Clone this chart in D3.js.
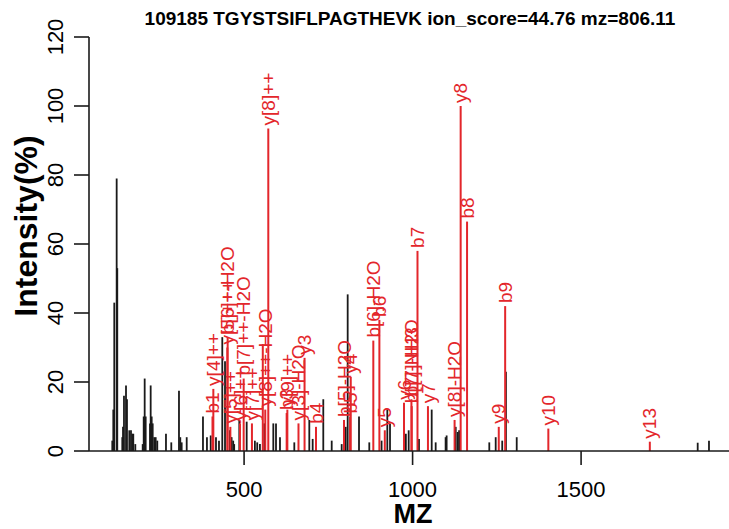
<!DOCTYPE html>
<html>
<head>
<meta charset="utf-8">
<script src="https://cdn.jsdelivr.net/npm/d3@7"></script>
<style>
  body { margin: 0; background: #fff; }
  svg { display: block; font-family: "Liberation Sans", Arial, sans-serif; }
</style>
</head>
<body>
<svg id="chart" width="729" height="529"></svg>
<script>
var title = "109185 TGYSTSIFLPAGTHEVK ion_score=44.76 mz=806.11";

// unmatched peaks (black)
var peakMz = [108.9, 111.9, 114.8, 121.9, 123.7, 138.6, 140.7, 143.6, 149.6, 152.5,
    159.4, 164.4, 168.2, 171.2, 177.2, 199.1, 202.1, 205.0, 208.0, 220.8,
    222.8, 225.8, 228.8, 233.5, 237.7, 242.4, 268.2, 284.0, 306.8, 310.7,
    314.8, 329.7, 378.0, 389.8, 400.9, 416.6, 425.5, 435.3, 443.4, 458.0,
    460.5, 463.0, 467.7, 470.6, 485.8, 507.7, 532.0, 539.0, 547.0, 560.0,
    586.7, 594.7, 606.5, 649.0, 693.5, 703.5, 735.0, 760.0, 789.6, 801.5,
    807.4, 841.0, 871.5, 908.0, 925.0, 933.0, 980.0, 988.4, 1019.0, 1056.7,
    1068.5, 1098.0, 1101.0, 1125.8, 1128.0, 1133.8, 1138.0, 1227.6, 1246.6, 1266.0,
    1277.0, 1309.0, 1846.0, 1879.5];
var peakInt = [3, 12, 43, 79, 53, 4, 7, 16, 19, 15,
    6, 6, 5, 5, 2, 2, 10, 21, 10, 8,
    19, 10, 8, 4, 4, 3, 5, 2.5, 17.5, 4,
    2.5, 4, 10, 4, 4.5, 4, 3, 33, 26, 6,
    4, 4, 3, 2, 9, 8.5, 3, 2.5, 2, 8,
    8, 8, 4, 2.5, 9, 3.5, 15, 3, 2, 7,
    45.4, 10, 2.5, 3, 12, 8, 5, 6, 3.5, 12,
    2.5, 4, 4.5, 6.5, 7, 5.5, 6, 2.5, 4, 3,
    23, 4, 2.4, 3];

// matched fragment ions (red)
var ionMz = [406.26, 408.75, 450.26, 451.23, 459.27, 487.78, 498.77, 523.30, 555.5, 562.82,
    571.83, 626.34, 628.37, 661.42, 679.43, 713.38, 796.41, 814.42, 816.49, 883.45,
    901.46, 917.54, 974.56, 996.53, 997.51, 1014.54, 1045.59, 1124.64, 1142.65, 1161.61,
    1255.73, 1274.69, 1402.80, 1703.96];
var ionInt = [10, 18, 30, 33, 7, 8, 21, 8, 31, 12,
    93.5, 11, 12, 8, 27, 7, 9, 10, 21.5, 32,
    38, 6, 14, 15, 13, 58, 13, 9, 100, 66.5,
    7, 42, 6.5, 2.7];
var ionLabels = ["b1", "y[4]++", "y[5]++-H2O", "b[6]++", "y[5]++", "y[6]++", "b[7]++-H2O", "y[7]++", "", "y[8]++-H2O",
    "y[8]++", "b3", "y[9]++", "y[3]-H2O", "y3", "b4", "b[5]-H2O", "b5", "y4", "b[6]-H2O",
    "b6", "y5", "y6", "b[7]-H2O", "b[7]-NH3", "b7", "y7", "y[8]-H2O", "y8", "b8",
    "y9", "b9", "y10", "y13"];

var xTicks = [500, 1000, 1500];
var yTicks = [0, 20, 40, 60, 80, 100, 120];

var red = "#e3262b";

var svg = d3.select("#chart");

var x = d3.scaleLinear().domain([39.8, 1938.9]).range([89, 729]);
var y = d3.scaleLinear().domain([0, 120]).range([451, 37]);

var peaks = peakMz.map(function(m, i) { return { mz: m, v: peakInt[i] }; });
var ions = ionMz.map(function(m, i) { return { mz: m, v: ionInt[i], label: ionLabels[i] }; });

// title
svg.append("text")
    .attr("x", 410).attr("y", 25)
    .attr("text-anchor", "middle")
    .style("font-size", "19px").style("font-weight", "bold")
    .text(title);

// black peaks
svg.append("g").selectAll("line")
    .data(peaks).enter().append("line")
    .attr("x1", function(d) { return x(d.mz); })
    .attr("x2", function(d) { return x(d.mz); })
    .attr("y1", y(0))
    .attr("y2", function(d) { return y(d.v); })
    .style("stroke", "#1a1a1a")
    .style("stroke-width", 1.8);

// red peaks
svg.append("g").selectAll("line")
    .data(ions).enter().append("line")
    .attr("x1", function(d) { return x(d.mz); })
    .attr("x2", function(d) { return x(d.mz); })
    .attr("y1", y(0))
    .attr("y2", function(d) { return y(d.v); })
    .style("stroke", red)
    .style("stroke-width", 2);

// ion labels
svg.append("g").selectAll("text")
    .data(ions.filter(function(d) { return d.label; })).enter().append("text")
    .attr("transform", function(d) { return "translate(" + x(d.mz) + "," + (y(d.v) - 3) + ") rotate(-90)"; })
    .attr("dy", "0.35em")
    .style("font-size", "19px")
    .style("fill", red)
    .text(function(d) { return d.label; });

// x axis (baseline + ticks)
var ax = svg.append("g");
ax.append("line")
    .attr("x1", 89).attr("x2", 729)
    .attr("y1", y(0)).attr("y2", y(0))
    .style("stroke", "#1a1a1a").style("stroke-width", 1.6);
ax.selectAll(".xt").data(xTicks).enter().append("line")
    .attr("x1", function(d) { return x(d); })
    .attr("x2", function(d) { return x(d); })
    .attr("y1", y(0)).attr("y2", y(0) + 14)
    .style("stroke", "#1a1a1a").style("stroke-width", 1.6);
ax.selectAll(".xl").data(xTicks).enter().append("text")
    .attr("x", function(d) { return x(d); })
    .attr("y", 497)
    .attr("text-anchor", "middle")
    .style("font-size", "22px")
    .text(function(d) { return d; });

// y axis
var ay = svg.append("g");
ay.append("line")
    .attr("x1", 89).attr("x2", 89)
    .attr("y1", y(120)).attr("y2", y(0))
    .style("stroke", "#1a1a1a").style("stroke-width", 1.6);
ay.selectAll(".yt").data(yTicks).enter().append("line")
    .attr("x1", 74).attr("x2", 89)
    .attr("y1", function(d) { return y(d); })
    .attr("y2", function(d) { return y(d); })
    .style("stroke", "#1a1a1a").style("stroke-width", 1.6);
ay.selectAll(".yl").data(yTicks).enter().append("text")
    .attr("transform", function(d) { return "translate(63," + y(d) + ") rotate(-90)"; })
    .attr("text-anchor", "middle")
    .style("font-size", "22px")
    .text(function(d) { return d; });

// axis titles
svg.append("text")
    .attr("x", 413).attr("y", 523)
    .attr("text-anchor", "middle")
    .style("font-size", "27px").style("font-weight", "bold")
    .text("MZ");
svg.append("text")
    .attr("transform", "translate(37,226) rotate(-90)")
    .attr("text-anchor", "middle")
    .style("font-size", "32px").style("font-weight", "bold")
    .text("Intensity(%)");
</script>
</body>
</html>
